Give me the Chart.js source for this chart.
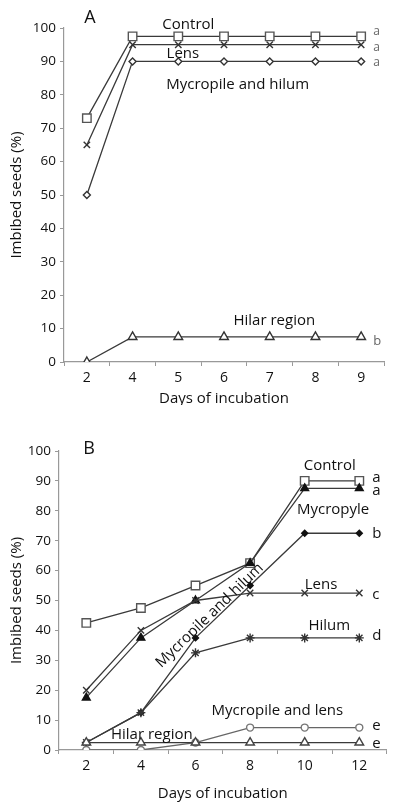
<!DOCTYPE html>
<html>
<head>
<meta charset="utf-8">
<script src="https://cdn.jsdelivr.net/npm/chart.js@4"></script>
<style>
  body { margin: 0; background: #fff; }
  .box { position: absolute; left: 0; }
  #boxA { top: 0; width: 394px; height: 405px; }
  #boxB { top: 405px; width: 394px; height: 404px; }
</style>
</head>
<body>
<div class="box" id="boxA"><canvas id="chartA" width="394" height="405"></canvas></div>
<div class="box" id="boxB"><canvas id="chartB" width="394" height="404"></canvas></div>
<script>
// panel A data
var daysA = ['2', '4', '5', '6', '7', '8', '9'];
var controlA = [73, 97.5, 97.5, 97.5, 97.5, 97.5, 97.5];
var lensA = [65, 95, 95, 95, 95, 95, 95];
var micHilumA = [50, 90, 90, 90, 90, 90, 90];
var hilarA = [0, 7.5, 7.5, 7.5, 7.5, 7.5, 7.5];

// panel B data
var daysB = ['2', '4', '6', '8', '10', '12'];
var controlB = [42.5, 47.5, 55, 62.5, 90, 90];
var micropyleB = [17.5, 37.5, 50, 62.5, 87.5, 87.5];
var micHilumB = [2.5, 12.5, 37.5, 55, 72.5, 72.5];
var lensB = [20, 40, 50, 52.5, 52.5, 52.5];
var hilumB = [2.5, 12.5, 32.5, 37.5, 37.5, 37.5];
var micLensB = [0, 0, 2.5, 7.5, 7.5, 7.5];
var hilarB = [2.5, 2.5, 2.5, 2.5, 2.5, 2.5];

var FONT = "'Open Sans', 'Noto Sans', sans-serif";
var LINE = '#3a3a3a';

// draws the text labels that sit next to the lines
var notesPlugin = {
    id: 'notes',
    afterDatasetsDraw: function(chart, args, opts)
    {
        var ctx = chart.ctx;
        var xs = chart.scales.x, ys = chart.scales.y;
        ctx.save();
        opts.items.forEach(function(n)
        {
            var px = n.px !== undefined ? n.px : xs.getPixelForValue(n.x);
            var py = n.py !== undefined ? n.py : ys.getPixelForValue(n.y);
            ctx.save();
            ctx.translate(px + (n.dx || 0), py);
            if (n.rot) ctx.rotate(n.rot * Math.PI / 180);
            ctx.font = (n.size || 15) + 'px ' + FONT;
            ctx.fillStyle = n.color || '#111';
            ctx.textAlign = n.align || 'center';
            ctx.textBaseline = 'middle';
            ctx.fillText(n.text, 0, 0);
            ctx.restore();
        });
        ctx.restore();
    }
};

function series(data, style, radius, fill, stroke, line)
{
    return {
        data: data,
        borderColor: line || LINE,
        borderWidth: 1.3,
        pointStyle: style,
        pointRadius: radius,
        pointBackgroundColor: fill,
        pointBorderColor: stroke || '#333',
        pointBorderWidth: 1.4,
        tension: 0,
        fill: false
    };
}

function makeOptions(yWidth, xHeight, padTop, padRight, titleBottom, notes)
{
    return {
        responsive: false,
        animation: false,
        layout: { padding: { top: padTop, right: padRight, left: 0, bottom: 0 } },
        plugins: {
            legend: { display: false },
            tooltip: { enabled: false },
            notes: { items: notes }
        },
        scales: {
            x: {
                type: 'category',
                offset: true,
                grid: { offset: true, drawOnChartArea: false, drawTicks: true, tickLength: 4, color: '#999' },
                border: { color: '#999', width: 1.2 },
                ticks: { color: '#111', font: { family: FONT, size: 14 }, padding: 4 },
                title: { display: true, text: 'Days of incubation', color: '#111', font: { family: FONT, size: 15 }, padding: { top: 2, bottom: titleBottom } },
                afterFit: function(s) { s.height = xHeight; }
            },
            y: {
                min: 0,
                max: 100,
                ticks: { stepSize: 10, color: '#111', font: { family: FONT, size: 13.5 }, padding: 4 },
                grid: { drawOnChartArea: false, drawTicks: true, tickLength: 4, color: '#999' },
                border: { color: '#999', width: 1.2 },
                title: { display: true, text: 'Imbibed seeds (%)', color: '#111', font: { family: FONT, size: 15 }, padding: { top: 8, bottom: 4 } },
                afterFit: function(s) { s.width = yWidth; }
            }
        }
    };
}

var notesA = [
    { text: 'A', px: 90, py: 18, size: 18 },
    { text: 'Control', x: 2.22, y: 101 },
    { text: 'Lens', x: 2.1, y: 92.4 },
    { text: 'Mycropile and hilum', x: 3.3, y: 83 },
    { text: 'Hilar region', x: 4.1, y: 12.5 },
    { text: 'a', x: 6, dx: 12, y: 98.8, size: 12, color: '#666', align: 'left' },
    { text: 'a', x: 6, dx: 12, y: 94.2, size: 12, color: '#666', align: 'left' },
    { text: 'a', x: 6, dx: 12, y: 89.7, size: 12, color: '#666', align: 'left' },
    { text: 'b', x: 6, dx: 12, y: 6.2, size: 13, color: '#666', align: 'left' }
];

var notesB = [
    { text: 'B', px: 89, py: 44, size: 18 },
    { text: 'Control', x: 4.46, y: 95 },
    { text: 'Mycropyle', x: 4.52, y: 80.2 },
    { text: 'Lens', x: 4.3, y: 55.3 },
    { text: 'Hilum', x: 4.45, y: 41.7 },
    { text: 'Mycropile and lens', x: 3.5, y: 13 },
    { text: 'Hilar region', x: 1.2, y: 5 },
    { text: 'Mycropile and hilum', x: 2.26, y: 45, rot: -44 },
    { text: 'a', x: 5, dx: 13, y: 91, align: 'left' },
    { text: 'a', x: 5, dx: 13, y: 86.7, align: 'left' },
    { text: 'b', x: 5, dx: 13, y: 72.2, align: 'left' },
    { text: 'c', x: 5, dx: 13, y: 52, align: 'left' },
    { text: 'd', x: 5, dx: 13, y: 38.3, align: 'left' },
    { text: 'e', x: 5, dx: 13, y: 8, align: 'left' },
    { text: 'e', x: 5, dx: 13, y: 2.2, align: 'left' }
];

new Chart(document.getElementById('chartA'), {
    type: 'line',
    data: {
        labels: daysA,
        datasets: [
            series(controlA, 'rect', 6, '#fff', '#555'),
            series(lensA, 'crossRot', 4.5, '#fff', '#333'),
            series(micHilumA, 'rectRot', 3.5, '#fff', '#333'),
            series(hilarA, 'triangle', 5, '#fff', '#333')
        ]
    },
    options: makeOptions(64, 43, 28, 10, -3, notesA),
    plugins: [notesPlugin]
});

new Chart(document.getElementById('chartB'), {
    type: 'line',
    data: {
        labels: daysB,
        datasets: [
            series(hilarB, 'triangle', 5, '#fff', '#444'),
            series(micLensB, 'circle', 3.5, '#fff', '#777', '#666'),
            series(hilumB, 'star', 4.5, '#333', '#333'),
            series(lensB, 'crossRot', 4.5, '#fff', '#333'),
            series(micHilumB, 'rectRot', 3, '#111', '#111'),
            series(micropyleB, 'triangle', 4.5, '#111', '#111'),
            series(controlB, 'rect', 6, '#fff', '#555')
        ]
    },
    options: makeOptions(59, 59, 46, 4.5, 6, notesB),
    plugins: [notesPlugin]
});
</script>
</body>
</html>
